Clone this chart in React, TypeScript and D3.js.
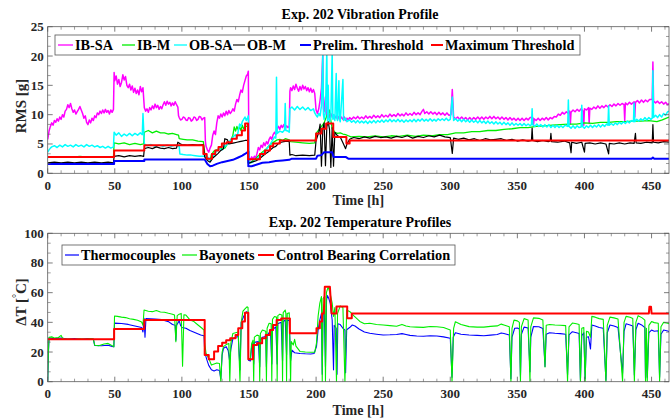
import * as d3 from "d3";

// ---- data (t in h, value) ----
const xTicks = [0, 50, 100, 150, 200, 250, 300, 350, 400, 450];
const rmsTicks = [0, 5, 10, 15, 20, 25];
const tempTicks = [0, 20, 40, 60, 80, 100];

const ibSa: [number, number][] = [
  [0, 5.8], [1, 7.2], [2, 8.0], [3, 8.6], [4, 8.2], [5, 9.0], [6, 8.7], [7, 9.3], [8, 8.9], [9, 9.6], [10, 9.2],
  [11, 10.0], [12, 9.6], [13, 10.6], [14, 10.9], [15, 11.7], [16, 11.2], [17, 11.9], [18, 11.0], [19, 10.4], [20, 10.8],
  [21, 10.1], [22, 10.5], [23, 10.9], [24, 11.4], [25, 10.8], [26, 10.2], [27, 9.4], [28, 9.8], [29, 8.7], [30, 8.3],
  [31, 9.1], [32, 8.6], [33, 9.4], [34, 9.0], [35, 9.8], [36, 9.5], [37, 10.3], [38, 10.0], [39, 10.6], [40, 10.2],
  [41, 10.8], [42, 10.3], [43, 10.9], [44, 10.4], [45, 10.7], [46, 10.1], [47, 10.8], [48, 10.4], [49, 10.9],
  [49.5, 17.2], [50, 15.8], [51, 16.6], [52, 15.2], [53, 16.0], [54, 14.8], [55, 15.5], [56, 16.8], [57, 15.9],
  [58, 16.5], [59, 15.0], [60, 14.6], [61, 15.2], [62, 14.2], [63, 14.9], [64, 13.8], [65, 14.5], [66, 13.6],
  [67, 14.2], [68, 13.4], [69, 14.8], [70, 13.9], [71, 14.6], [72, 11.2], [73, 10.6], [74, 11.0], [75, 10.4],
  [76, 11.2], [77, 10.8], [78, 11.5], [79, 11.0], [80, 11.8], [81, 11.2], [82, 11.6], [83, 10.9], [84, 11.4],
  [85, 11.0], [86, 11.7], [87, 12.2], [88, 11.6], [89, 12.3], [90, 11.8], [91, 12.1], [92, 11.5], [93, 12.0],
  [94, 11.6], [95, 12.2], [96, 11.7], [97, 11.3], [97.5, 9.8], [98, 9.5], [99, 9.1], [100, 9.2], [101, 9.6], [102, 9.5],
  [103, 9.1], [104, 9.0], [105, 9.5], [106, 9.4], [107, 8.9], [108, 9.1], [109, 9.6], [110, 9.5], [111, 9.0],
  [112, 9.2], [113, 9.7], [114, 9.6], [115, 9.1], [116, 9.4], [117, 9.5], [117.5, 5.5], [118, 4.6],
  [119, 4.0], [120, 3.6], [121, 4.3], [122, 4.8], [123, 6.5], [124, 7.2], [125, 6.6], [126, 8.6], [127, 9.8],
  [128, 9.4], [129, 10.1], [130, 9.6], [131, 10.3], [132, 9.8], [133, 10.6], [134, 10.0], [135, 10.7], [136, 10.2],
  [137, 10.5], [138, 11.0], [139, 10.6], [140, 11.8], [141, 12.6], [142, 12.2], [143, 13.3], [144, 14.2], [145, 13.8],
  [146, 15.0], [147, 15.8], [148, 16.6], [149, 16.9], [149.5, 17.4], [150, 2.6], [151, 2.3], [152, 2.8], [153, 2.4],
  [154, 2.9], [155, 2.6], [156, 3.4], [157, 4.4], [158, 4.0], [159, 4.8], [160, 4.4], [161, 5.2], [162, 4.7],
  [163, 5.4], [164, 5.0], [165, 5.8], [166, 6.2], [167, 5.8], [168, 6.6], [169, 7.0], [170, 6.6], [171, 7.6],
  [172, 8.0], [173, 7.5], [174, 8.2], [175, 7.8], [176, 8.3], [177, 7.7], [178, 8.1], [179, 7.8], [180, 8.0],
  [180.5, 14.0], [181, 14.6], [182, 14.1], [183, 14.9], [184, 14.3], [185, 15.2], [186, 14.5], [187, 14.0],
  [188, 14.8], [189, 14.2], [190, 15.0], [191, 14.4], [192, 14.8], [193, 14.1], [194, 14.6], [195, 13.9],
  [196, 14.5], [197, 13.8], [198, 14.3], [199, 13.6], [200, 10.8], [201, 10.2], [202, 11.0], [203, 12.5],
  [204, 14.5], [205, 20.3], [205.5, 11.0], [206, 10.5], [207, 13.0], [208, 9.8], [209, 10.5], [210, 9.5],
  [211, 10.2], [212, 9.6], [213, 10.0], [214, 9.4], [215, 9.8], [216, 9.2], [217, 9.7], [218, 9.3], [219, 9.6],
  [220, 9.2], [221, 9.6], [222, 9.0], [223, 9.4], [224, 9.1], [225, 9.5], [226.5, 9.2], [228, 9.6], [229.5, 9.3],
  [231, 9.7], [232.5, 9.3], [234, 9.6], [235.5, 9.3], [237, 9.8], [238.5, 9.4], [240, 9.7], [241.5, 9.4],
  [243, 9.9], [244.5, 9.5], [246, 9.8], [247.5, 9.5], [249, 10.0], [250.5, 9.6], [252, 9.9], [253.5, 9.6],
  [255, 10.1], [256.5, 9.7], [258, 10.0], [259.5, 9.7], [261, 10.2], [262.5, 9.8], [264, 10.1], [265.5, 9.8],
  [267, 10.3], [268.5, 9.9], [270, 10.2], [271.5, 9.9], [273, 10.4], [274.5, 10.0], [276, 10.3], [277.5, 10.0],
  [279, 10.6], [280, 10.9], [281, 10.2], [282.5, 10.5], [284, 10.1], [285.5, 10.5], [287, 10.1], [288.5, 10.4],
  [290, 10.0], [291.5, 10.4], [293, 10.0], [294.5, 10.3], [296, 9.9], [297.5, 10.3], [299, 9.9], [300.5, 10.0],
  [301.5, 14.3], [302.5, 9.6], [304, 9.3], [305.5, 9.6], [307, 9.2], [308.5, 9.6], [310, 9.2], [311.5, 9.5],
  [313, 9.1], [314.5, 9.5], [316, 9.1], [317.5, 9.5], [319, 9.2], [320.5, 9.6], [322, 9.2], [323.5, 9.6],
  [325, 9.2], [326.5, 9.6], [328, 9.3], [329.5, 9.7], [331, 9.3], [332.5, 9.7], [334, 9.3], [335.5, 9.6],
  [337, 9.2], [338.5, 9.6], [340, 9.2], [341.5, 9.5], [343, 9.1], [344.5, 9.5], [346, 9.1], [347.5, 9.4],
  [349, 9.0], [350.5, 9.4], [352, 9.0], [353.5, 9.4], [355, 9.0], [356.5, 9.4], [358, 9.1], [359.5, 9.5],
  [361.5, 9.5], [362, 8.2], [362.5, 9.3], [364, 9.0], [365.5, 9.4], [367, 9.0], [368.5, 9.4], [370, 9.1],
  [371.5, 9.5], [373, 9.1], [374.5, 9.5], [376, 9.3], [377.5, 9.7], [379, 9.6], [380.5, 10.1], [382, 9.9],
  [383.5, 10.4], [385, 10.1], [386.5, 10.5], [388, 10.2], [389, 10.6], [389.5, 8.4], [390, 10.4], [391.5, 10.8],
  [393, 10.5], [394.5, 10.9], [396, 10.6], [397.5, 11.0], [399, 10.6], [399.5, 8.2], [400, 11.0], [401.5, 10.8],
  [403, 11.2], [403.5, 8.5], [404, 11.1], [405.5, 10.9], [407, 11.3], [408.5, 11.0], [410, 11.5], [411.5, 11.1],
  [413, 11.5], [414.5, 11.2], [416, 11.6], [417.5, 11.3], [419, 11.7], [420.5, 11.4], [422, 11.8], [423.5, 11.5],
  [425, 11.9], [426.5, 11.6], [428, 11.9], [429.5, 11.7], [430, 9.0], [430.5, 12.0], [432, 11.7], [433.5, 12.1],
  [435, 11.8], [437, 12.2], [437.5, 9.6], [438, 12.1], [439.5, 12.4], [441, 12.0], [442.5, 12.5], [444, 12.1],
  [445.5, 12.5], [447, 12.2], [448.5, 12.6], [450.5, 12.6], [451, 19.0], [451.5, 12.3], [453, 12.0], [454.5, 12.3],
  [456, 11.9], [457.5, 12.2], [459, 11.8], [460.5, 12.1], [462, 11.7], [463, 11.9],
];

const ibM: [number, number][] = [
  [0, 2.7], [8, 2.8], [16, 2.7], [24, 2.9], [32, 2.7], [40, 2.8], [49, 2.7], [49.5, 5.2], [53, 5.0], [57, 5.2],
  [61, 4.9], [65, 5.1], [69, 4.9], [71.5, 5.0], [72, 7.0], [75, 7.3], [78, 6.9], [81, 7.2], [84, 6.9], [87, 6.9],
  [90, 6.7], [93, 6.8], [96, 6.6], [97.5, 6.5], [98, 5.9], [101, 5.8], [104, 5.7], [108, 5.7], [112, 5.5],
  [116, 5.4], [117, 3.3], [119, 2.6], [121, 2.3], [122, 3.2], [124, 3.8], [128, 4.2], [132, 4.3], [134, 5.0],
  [136, 5.4], [138, 6.5], [139, 7.9], [140, 7.2], [141, 8.0], [142, 7.4], [143, 7.9], [144, 7.3], [145, 8.2],
  [146, 7.6], [147, 7.9], [148, 8.0], [149, 8.1], [149.5, 1.8], [151, 1.8], [153, 2.2], [155, 2.5], [157, 3.0],
  [159, 3.4], [161, 3.8], [163, 4.2], [165, 4.7], [167, 5.1], [169, 5.4], [171, 5.7], [173, 5.8], [175, 5.6],
  [177, 5.9], [180, 5.7], [181, 5.4], [185, 5.3], [190, 5.2], [195, 5.1], [199, 5.2], [200, 6.8], [202, 7.4],
  [204, 8.0], [206, 8.6], [208, 9.8], [210, 10.8], [211, 9.0], [212, 7.6], [214, 7.0], [216, 6.8], [218, 6.9],
  [220, 6.7], [222, 6.6], [224, 6.4], [226, 6.2], [232, 6.3], [238, 6.2], [244, 6.4], [250, 6.2], [256, 6.4],
  [262, 6.3], [268, 6.5], [274, 6.3], [280, 6.5], [286, 6.4], [292, 6.6], [298, 6.6], [304, 6.9], [310, 6.9],
  [316, 7.1], [322, 7.1], [328, 7.3], [334, 7.3], [340, 7.5], [346, 7.6], [352, 7.8], [358, 7.8], [364, 8.0],
  [370, 8.1], [376, 8.2], [382, 8.3], [388, 8.4], [394, 8.4], [400, 8.6], [406, 8.5], [412, 8.7], [418, 8.7],
  [424, 8.8], [430, 8.8], [436, 8.9], [442, 8.9], [448, 9.0], [454, 8.8], [458, 9.1], [463, 9.6],
];

const obSa: [number, number][] = [
  [0, 3.6], [1, 4.0], [2, 4.3], [3, 4.5], [5, 4.7], [7, 4.4], [9, 4.8], [11, 4.5], [13, 4.9], [15, 4.6], [17, 4.8],
  [19, 4.5], [21, 4.9], [23, 4.6], [25, 4.8], [27, 4.5], [29, 4.9], [31, 4.6], [33, 4.8], [35, 4.5], [37, 4.7],
  [39, 4.4], [41, 4.6], [43, 4.3], [45, 4.6], [47, 4.3], [49, 4.5], [49.5, 7.0], [51, 6.5], [53, 6.9], [55, 6.3],
  [57, 6.7], [59, 6.4], [61, 6.8], [63, 6.4], [65, 6.8], [67, 6.5], [69, 6.9], [70.5, 6.6], [71, 10.2], [72, 5.0],
  [74, 4.7], [77, 4.9], [80, 4.6], [83, 4.8], [86, 4.6], [89, 4.8], [92, 4.6], [95, 4.8], [98, 4.6], [98.5, 3.3],
  [101, 3.2], [104, 3.1], [107, 3.1], [110, 3.0], [113, 2.9], [116, 2.9], [118, 3.0], [120, 2.6], [121, 2.2],
  [122, 2.4], [124, 3.2], [126, 3.8], [128, 4.2], [130, 4.0], [132, 4.6], [134, 5.0], [136, 5.6], [138, 6.2],
  [140, 6.6], [141, 6.0], [142, 7.2], [143, 8.4], [144, 8.0], [145, 8.8], [146, 9.2], [147, 9.6], [148, 9.0],
  [149, 9.5], [149.5, 9.8], [150, 2.0], [152, 1.8], [154, 2.1], [156, 2.4], [158, 2.9], [160, 3.3], [162, 3.8],
  [164, 4.4], [166, 5.0], [168, 5.8], [169, 6.2], [170, 6.0], [170.5, 16.4], [171, 6.8], [173, 7.2], [175, 7.0],
  [176.5, 7.4], [177, 11.9], [177.5, 7.3], [179, 7.2], [180, 7.0], [180.5, 11.0], [182, 11.3], [184, 10.8],
  [186, 11.4], [188, 10.9], [190, 11.3], [192, 10.8], [194, 11.2], [196, 10.7], [198, 11.0], [199, 10.3],
  [200, 9.9], [201, 9.6], [202, 10.2], [203, 9.8], [204, 11.5], [205, 20.5], [205.5, 10.0], [206, 9.2],
  [207, 10.5], [208, 20.8], [208.5, 9.0], [209, 15.0], [209.5, 9.4], [210, 8.8], [211, 9.5], [212, 20.5],
  [212.5, 9.2], [213, 10.0], [214, 9.0], [215, 17.0], [215.5, 9.4], [216, 9.0], [217, 15.8], [217.5, 9.2],
  [218, 8.8], [220, 16.0], [220.5, 9.0], [222, 9.4], [223, 8.8], [225, 9.1], [226.5, 8.7], [228, 9.0], [229.5, 8.6],
  [231, 9.0], [232.5, 8.6], [234, 8.9], [235.5, 8.6], [237, 8.9], [238.5, 8.5], [240, 8.9], [241.5, 8.6],
  [243, 9.0], [244.5, 8.6], [246, 9.0], [247.5, 8.7], [249, 9.1], [250.5, 8.7], [252, 9.1], [253.5, 8.8],
  [255, 9.2], [256.5, 8.8], [258, 9.1], [259.5, 8.8], [261, 9.2], [262.5, 8.8], [264, 9.1], [265.5, 8.7],
  [267, 9.1], [268.5, 8.8], [270, 9.1], [271.5, 8.8], [273, 9.2], [274.5, 8.8], [276, 9.2], [277.5, 8.9],
  [279, 9.3], [280.5, 8.9], [282, 9.2], [283.5, 8.9], [285, 9.3], [286.5, 8.9], [288, 9.2], [289.5, 8.9],
  [291, 9.3], [292.5, 9.0], [294, 9.3], [295.5, 9.0], [297, 9.4], [298.5, 9.0], [300, 9.2], [301.5, 13.0],
  [302.5, 9.0], [304, 9.3], [305.5, 8.9], [307, 9.2], [308.5, 8.8], [310, 9.2], [311.5, 8.8], [313, 9.1],
  [314.5, 8.7], [316, 9.1], [317.5, 8.7], [319, 9.0], [320.5, 8.6], [322, 9.0], [323.5, 8.6], [325, 8.9],
  [326.5, 8.5], [328, 8.9], [329.5, 8.5], [331, 8.8], [332.5, 8.4], [334, 8.8], [335.5, 8.4], [337, 8.7],
  [338.5, 8.3], [340, 8.7], [341.5, 8.3], [343, 8.6], [344.5, 8.2], [346, 8.6], [347.5, 8.2], [349, 8.5],
  [350.5, 8.2], [352, 8.5], [353.5, 8.1], [355, 8.5], [356.5, 8.1], [358, 8.4], [359.5, 8.1], [360.5, 8.3],
  [361, 11.0], [361.5, 8.3], [363, 8.0], [364.5, 8.4], [366, 8.0], [367.5, 8.3], [369, 7.9], [370.5, 8.3],
  [372, 7.9], [373.5, 8.3], [375, 7.8], [376.5, 8.2], [378, 7.8], [379.5, 8.2], [381, 7.8], [382.5, 8.1],
  [384, 7.8], [385.5, 8.2], [387.5, 8.0], [388, 12.5], [388.5, 8.0], [390, 7.7], [391.5, 8.1], [393, 7.7],
  [394.5, 8.1], [396, 7.8], [397.5, 7.9], [398, 11.6], [398.5, 8.0], [400, 7.7], [401.5, 8.1], [403, 7.8],
  [404.5, 8.2], [406, 7.8], [407.5, 8.2], [409, 7.9], [410.5, 8.3], [412, 7.9], [413.5, 8.3], [415, 8.0],
  [416.5, 8.4], [417.5, 8.2], [418, 11.5], [418.5, 8.2], [420, 8.5], [421.5, 8.2], [423, 8.6], [424.5, 8.3],
  [426, 8.7], [427.5, 8.4], [429, 8.8], [430.5, 8.5], [432, 8.9], [433.5, 8.6], [435, 9.0], [436.5, 8.8],
  [437, 12.0], [437.5, 8.8], [439, 9.2], [440.5, 8.9], [442, 9.3], [443.5, 9.0], [445, 9.5], [446.5, 9.1],
  [448, 9.5], [449.5, 9.2], [450.5, 9.4], [451, 17.5], [451.5, 9.5], [453, 9.9], [454.5, 9.5], [456, 10.0],
  [457.5, 9.6], [459, 10.2], [460.5, 9.9], [462, 10.5], [463, 10.6],
];

const obM: [number, number][] = [
  [0, 1.8], [5, 1.9], [10, 1.8], [15, 1.9], [20, 1.8], [25, 1.9], [30, 1.8], [35, 1.9], [40, 1.8], [45, 1.9],
  [49, 1.8], [49.5, 2.9], [53, 3.0], [57, 2.8], [61, 3.0], [65, 2.9], [69, 3.0], [71.5, 2.9], [72, 4.2], [75, 4.4],
  [78, 4.2], [81, 4.5], [84, 4.3], [87, 4.2], [90, 4.4], [93, 4.2], [96, 4.3], [97, 5.3], [99, 5.0], [100, 4.9],
  [104, 4.8], [108, 4.9], [112, 4.8], [116, 4.9], [117, 2.8], [119, 2.2], [121, 1.9], [123, 2.6], [125, 3.0],
  [127, 3.4], [129, 3.9], [131, 4.2], [132, 5.9], [134, 5.7], [135, 5.0], [137, 5.1], [139, 5.2], [141, 5.3],
  [143, 5.4], [145, 5.5], [147, 5.6], [149, 5.6], [149.5, 1.7], [152, 1.9], [155, 2.1], [158, 2.5], [160, 2.9],
  [162, 3.3], [164, 3.6], [166, 4.0], [168, 4.4], [170, 4.6], [172, 5.1], [174, 5.3], [176, 5.4], [178, 5.5],
  [180, 5.4], [180.5, 3.1], [182, 3.2], [185, 3.0], [190, 3.1], [195, 3.0], [199, 3.1], [200, 5.6], [202, 7.0],
  [203, 8.4], [204, 1.2], [205, 7.6], [206, 8.6], [207, 1.3], [208, 7.9], [209, 8.8], [210, 7.5], [211, 1.0],
  [212, 7.8], [213, 1.2], [214, 7.0], [216, 6.4], [218, 6.2], [220, 5.2], [222, 4.2], [223, 5.0], [225, 5.8],
  [228, 6.1], [232, 5.9], [236, 6.2], [240, 6.0], [244, 6.3], [248, 6.1], [252, 6.2], [256, 6.0], [260, 6.3],
  [264, 6.1], [268, 6.4], [272, 6.0], [276, 6.3], [280, 6.1], [284, 6.4], [288, 6.2], [292, 6.5], [296, 6.2],
  [300, 6.1], [301.5, 3.4], [302.5, 6.0], [306, 5.8], [310, 6.0], [314, 5.7], [318, 5.9], [322, 5.6], [326, 5.9],
  [330, 5.7], [334, 5.8], [338, 5.9], [342, 5.6], [346, 5.8], [350, 5.5], [354, 5.7], [358, 5.5], [360.5, 5.6],
  [361, 7.7], [361.5, 5.6], [365, 5.4], [369, 5.6], [373, 5.4], [374.5, 5.5], [375, 6.8], [375.5, 5.4], [380, 5.3],
  [385, 5.5], [389, 5.2], [390, 3.5], [390.5, 5.3], [394, 5.1], [398, 5.3], [400, 3.6], [400.5, 5.1], [404, 5.2],
  [408, 5.0], [412, 5.2], [416, 5.0], [418, 3.3], [418.5, 5.1], [422, 5.0], [426, 5.2], [430, 5.0], [434, 5.2],
  [437, 5.1], [438, 6.8], [438.5, 5.2], [442, 5.1], [446, 5.3], [450.5, 5.2], [451, 8.3], [451.5, 5.3], [455, 5.2],
  [459, 5.4], [463, 5.3],
];

const prelimThr: [number, number][] = [
  [0, 1.6], [49.5, 1.6], [49.5, 2.1], [72, 2.1], [72, 2.35], [117, 2.35], [119, 1.6], [121, 1.2], [123, 1.3],
  [126, 1.6], [130, 1.9], [134, 2.1], [138, 2.3], [142, 2.7], [145, 3.0], [147, 3.3], [149.5, 3.7], [149.5, 1.2],
  [152, 1.2], [156, 1.5], [160, 1.8], [165, 1.9], [170, 2.1], [175, 2.2], [180, 2.3], [182, 2.5], [200, 2.5],
  [201, 3.0], [204, 3.1], [206, 3.6], [212, 3.6], [213, 2.8], [222, 2.8], [224, 2.5], [450, 2.5], [451, 2.7],
  [452, 2.5], [463, 2.5],
];

const maxThr: [number, number][] = [
  [0, 2.8], [49.5, 2.8], [49.5, 3.9], [72, 3.9], [72, 4.8], [116, 4.8], [116, 3.3], [118.5, 3.3], [118.5, 2.5],
  [122.4, 2.5], [122.4, 3.3], [124.8, 3.3], [124.8, 3.9], [127.3, 3.9], [127.3, 4.5], [129.8, 4.5], [129.8, 5.1],
  [133.5, 5.1], [133.5, 5.3], [137.2, 5.3], [137.2, 5.9], [140.9, 5.9], [140.9, 6.5], [144.7, 6.5], [144.7, 7.3],
  [147.1, 7.3], [147.1, 8.5], [149.3, 8.5], [149.3, 2.4], [158.2, 2.4], [158.2, 3.3], [161.9, 3.3], [161.9, 3.9],
  [165.7, 3.9], [165.7, 4.6], [168, 4.6], [168, 5.1], [173, 5.1], [173, 5.6], [200, 5.6], [200, 6.8], [204, 6.8],
  [204, 7.6], [207.5, 7.6], [207.5, 8.5], [212.8, 8.5], [212.8, 6.2], [222.6, 6.2], [222.6, 5.1], [225, 5.1],
  [225, 5.6], [463, 5.6],
];

const thermocouples: [number, number][] = [
  [0, 0], [0.5, 18], [1, 29.5], [5, 29.0], [10, 29.5], [15, 28.8], [20, 29.0], [25, 28.6], [30, 29.0], [34, 28.8],
  [35, 24.5], [40, 24.2], [45, 24.6], [48, 23.8], [49.3, 23.5], [49.8, 39.5], [55, 39.2], [60, 38.6], [65, 37.5],
  [70, 36.5], [71, 33.5], [71.8, 42.7], [72.5, 30.0], [73.2, 42.5], [80, 42.2], [85, 41.8], [90, 40.5], [93, 38.5],
  [95, 38.0], [95.5, 28.0], [96, 38.0], [98, 41.0], [99, 38.0], [100, 36.5], [103, 36.0], [106, 34.5], [110, 33.0],
  [114, 31.5], [116.5, 31.0], [117, 20.0], [118.5, 15.0], [120, 11.0], [122, 8.0], [124, 7.2], [126, 8.0],
  [128, 7.5], [129, 2.0], [130, 18.0], [131, 22.5], [133, 23.6], [134.5, 21.0], [135.5, 14.5], [136.5, 22.0],
  [138, 29.0], [140, 30.0], [142, 30.5], [143.3, 8.0], [144.2, 40.0], [146, 43.9], [148, 47.2], [149.2, 46.5],
  [149.6, 14.5], [151, 14.0], [152, 24.0], [153, 26.0], [153.5, 12.0], [154, 26.5], [157, 27.0], [158, 10.0],
  [158.5, 28.0], [160, 30.0], [162.5, 30.5], [163, 10.0], [163.5, 31.0], [166, 34.5], [167, 12.0], [167.5, 35.0],
  [170, 37.0], [171, 12.0], [171.5, 39.0], [174, 40.0], [175, 14.0], [175.5, 40.5], [177, 41.6], [178, 18.0],
  [178.5, 41.6], [180, 41.0], [181, 14.0], [182, 21.3], [184, 19.5], [188, 19.0], [192, 18.8], [196, 18.7],
  [198.5, 19.0], [200.3, 23.6], [201.5, 34.8], [202.8, 41.6], [204, 46.0], [204.6, 5.0], [205.2, 47.0],
  [206, 52.0], [207, 10.0], [207.8, 55.0], [208.5, 58.0], [209.5, 56.0], [210.5, 53.0], [212, 41.6], [213, 8.0],
  [213.5, 38.0], [215, 36.0], [215.6, 5.0], [216.2, 39.0], [218, 38.5], [220, 36.0], [221.5, 34.8], [222, 6.0],
  [222.8, 35.0], [225, 36.5], [227, 38.2], [229, 37.5], [232, 35.5], [236, 33.5], [240, 32.6], [245, 32.0],
  [250, 31.5], [255, 31.6], [260, 31.8], [264, 32.4], [267, 31.8], [270, 31.2], [275, 30.8], [280, 30.6],
  [285, 31.0], [290, 30.8], [295, 30.2], [300, 29.3], [301.3, 3.0], [302.2, 30.0], [303.8, 33.0], [308, 32.0],
  [314, 31.5], [320, 31.2], [325, 31.0], [330, 31.4], [335, 31.8], [338, 32.8], [340, 32.5], [344, 31.5],
  [345.2, 2.0], [346, 30.0], [348, 36.0], [350, 36.2], [351.5, 35.5], [352.3, 3.5], [353, 32.0], [355, 36.8],
  [358, 36.2], [359.4, 6.7], [360, 30.0], [362, 37.2], [366, 37.0], [369, 35.8], [370.6, 10.2], [371.5, 32.0],
  [374, 33.0], [378, 32.6], [382, 32.4], [386, 32.0], [387.4, 4.6], [388.5, 31.5], [391, 33.7], [394, 33.0],
  [396, 32.5], [397, 1.0], [398, 31.0], [399.5, 33.0], [400.5, 2.0], [401.5, 30.0], [403, 30.3], [404.5, 22.0],
  [405.5, 38.2], [408, 37.5], [411, 36.5], [414, 36.0], [416, 1.0], [417, 33.0], [419, 38.2], [422, 37.5],
  [425, 36.5], [428.4, 5.6], [429.5, 34.0], [431, 39.0], [434, 38.2], [436, 37.5], [437.2, 4.6], [438.3, 35.0],
  [440, 39.4], [443, 38.0], [445, 36.5], [445.5, 2.0], [446.2, 30.0], [446.8, 3.0], [448, 33.0], [450, 34.8],
  [452, 34.0], [455, 34.3], [456, 3.0], [457, 32.0], [459, 34.8], [462, 34.2], [463, 33.8],
];

const bayonets: [number, number][] = [
  [0, 0], [0.5, 20], [1, 30.0], [3, 30.2], [5, 29.5], [8, 29.8], [10, 31.2], [11, 29.5], [13, 28.5], [16, 28.8],
  [20, 28.4], [24, 28.9], [28, 28.6], [32, 29.0], [34, 28.8], [35, 24.6], [38, 24.2], [42, 25.4], [45, 25.8],
  [47, 24.8], [49.3, 23.5], [49.8, 44.3], [52, 44.0], [55, 43.5], [58, 43.2], [61, 42.4], [64, 42.0], [67, 41.4],
  [70, 40.2], [71, 38.0], [71.8, 48.3], [75, 47.5], [78, 47.2], [81, 48.0], [84, 47.0], [87, 46.8], [90, 46.1],
  [93, 45.5], [94.5, 44.9], [95.5, 27.0], [96.5, 44.5], [98, 45.5], [99.5, 46.0], [100.5, 10.5], [101.5, 45.0],
  [103, 44.9], [106, 41.6], [109, 40.5], [112, 38.2], [115, 36.0], [116.5, 34.8], [117, 25.8], [118, 19.1],
  [120, 15.7], [122, 11.2], [124, 11.9], [126, 12.6], [128, 12.3], [129, 0], [130, 20.0], [131, 23.6], [133, 25.0],
  [135, 25.8], [135.7, 0], [136.5, 26.0], [138, 32.5], [140, 33.0], [142, 33.5], [143.3, 0], [144.2, 40.0],
  [145.5, 47.5], [147, 49.0], [148.5, 50.5], [149.3, 50.0], [149.7, 15.7], [151, 15.5], [152, 25.8], [153, 28.0],
  [153.5, 0], [154, 30.0], [156, 31.4], [157.5, 31.0], [158, 0], [158.5, 32.5], [160, 34.8], [162.5, 34.0],
  [163, 0], [163.5, 36.0], [165, 39.4], [166.5, 39.0], [167, 0], [167.5, 42.0], [169, 43.9], [170.5, 43.5],
  [171, 0], [171.5, 44.5], [173, 45.5], [174.5, 45.0], [175, 0], [175.5, 46.5], [177, 48.3], [177.5, 46.0],
  [178, 0], [178.5, 46.0], [180, 46.5], [181, 0], [181.5, 27.0], [183, 24.7], [184, 28.5], [185, 24.0],
  [188, 20.4], [192, 20.0], [196, 19.8], [199, 19.8], [200.3, 26.0], [201.5, 44.0], [202.8, 53.0], [204, 57.4],
  [204.6, 0], [205.2, 56.0], [206.5, 57.5], [207, 0], [207.7, 60.0], [209, 64.0], [210.3, 60.0], [212, 53.0],
  [213, 44.0], [214, 50.0], [215.2, 0], [216, 46.0], [218, 51.0], [220, 50.0], [221.5, 0], [222.8, 48.3],
  [225.2, 47.2], [228, 44.5], [232.6, 40.6], [236, 39.0], [240, 39.4], [245, 38.5], [250, 38.2], [255, 37.8],
  [260, 37.4], [264, 38.6], [267, 37.5], [270, 37.0], [275, 36.8], [280, 36.6], [285, 37.2], [290, 37.0],
  [295, 36.5], [300, 34.9], [301.3, 0], [302.5, 36.0], [303.8, 40.4], [308, 38.5], [314, 37.1], [320, 36.8],
  [325, 36.8], [330, 37.3], [335, 37.6], [338, 38.8], [340, 38.2], [344, 37.0], [345.2, 0], [346, 36.0],
  [347.5, 41.5], [350, 41.0], [351.5, 40.0], [352.3, 0], [353, 37.0], [355, 42.5], [358, 41.6], [359.4, 0],
  [360, 37.0], [362, 43.0], [366, 42.7], [369, 41.5], [370.6, 10.0], [371.5, 38.0], [374, 38.5], [378, 38.2],
  [382, 38.0], [386, 37.8], [387.4, 0], [388.5, 37.0], [391, 39.5], [394, 39.0], [396, 38.5], [397, 0], [398, 36.0],
  [399.5, 36.5], [400.5, 0], [401.5, 34.0], [403, 33.5], [404.5, 30.0], [405.5, 44.0], [408, 43.5], [411, 42.5],
  [414, 42.0], [416, 0], [417, 38.0], [419, 43.5], [422, 43.0], [425, 42.3], [428.4, 0], [429.5, 40.0], [431, 44.0],
  [434, 43.4], [436, 42.6], [437.2, 0], [438.3, 40.0], [440, 44.5], [443, 43.0], [445, 41.5], [445.5, 0],
  [446.2, 36.0], [446.8, 0], [448, 38.0], [450, 40.5], [452, 39.8], [455, 39.4], [456, 0], [457, 37.0],
  [459, 40.0], [462, 39.4], [463, 39.0],
];

const controlBearing: [number, number][] = [
  [0, 28.6], [49.5, 28.6], [49.5, 35.5], [72, 35.5], [72, 41.5], [117, 41.5], [117, 18.0], [120, 18.0],
  [120, 15.1], [124, 15.1], [124, 20.4], [127, 20.4], [127, 24.1], [130, 24.1], [130, 26.3], [133, 26.3],
  [133, 28.0], [136, 28.0], [136, 29.2], [140, 29.2], [140, 31.5], [142, 31.5], [142, 36.0], [145, 36.0],
  [145, 40.5], [147, 40.5], [147, 46.5], [149.5, 46.5], [149.5, 15.1], [153, 15.1], [153, 24.7], [156, 24.7],
  [156, 25.9], [159.8, 25.9], [159.8, 29.2], [162.5, 29.2], [162.5, 31.5], [165.6, 31.5], [165.6, 34.8],
  [168, 34.8], [168, 38.2], [170.6, 38.2], [170.6, 41.6], [174, 41.6], [174, 42.6], [180.5, 42.6], [180.5, 32.6],
  [200.3, 32.6], [200.3, 36.0], [202.8, 36.0], [202.8, 40.5], [204.5, 40.5], [204.5, 46.0], [205.8, 46.0],
  [206.5, 64.0], [210.3, 64.0], [211.5, 46.0], [215.2, 46.0], [215.2, 50.6], [223.2, 50.6], [223.2, 42.7],
  [226.6, 42.7], [226.6, 46.0], [448, 46.0], [448.4, 50.5], [449.6, 50.5], [450, 46.0], [463, 46.0],
];

type Series = { name: string; data: [number, number][]; color: string; width: number; legendWidth: number };

const topSeries: Series[] = [
  { name: "IB-SA", data: ibSa, color: "#ff00ff", width: 1.5, legendWidth: 1.3 },
  { name: "IB-M", data: ibM, color: "#00ee00", width: 1.3, legendWidth: 1.3 },
  { name: "OB-SA", data: obSa, color: "#00ffff", width: 1.5, legendWidth: 1.3 },
  { name: "OB-M", data: obM, color: "#000000", width: 1.2, legendWidth: 1.1 },
  { name: "Prelim. Threshold", data: prelimThr, color: "#0000ff", width: 2, legendWidth: 2 },
  { name: "Maximum Threshold", data: maxThr, color: "#ff0000", width: 2, legendWidth: 2 },
];

const bottomSeries: Series[] = [
  { name: "Thermocouples", data: thermocouples, color: "#0000ff", width: 1.1, legendWidth: 1.2 },
  { name: "Bayonets", data: bayonets, color: "#00ee00", width: 1.1, legendWidth: 1.2 },
  { name: "Control Bearing Correlation", data: controlBearing, color: "#ff0000", width: 2, legendWidth: 2 },
];

const FONT = "'Liberation Serif', 'Times New Roman', serif";
const LEFT = 47.7;
const RIGHT = 669;

type PanelProps = {
  id: string;
  top: number;
  bottom: number;
  yMax: number;
  yTicks: number[];
  yMinorStep: number;
  series: Series[];
  title: string;
  titleY: number;
  xLabelY: number;
  tickLabelY: number;
  yLabel: React.ReactNode;
  yLabelY: number;
  legend: { x: number; y: number; w: number; lineX: number[]; textX: number[] };
};

function Panel(p: PanelProps) {
  const x = d3.scaleLinear().domain([0, 463]).range([LEFT, RIGHT]);
  const y = d3.scaleLinear().domain([0, p.yMax]).range([p.bottom, p.top]);
  const line = d3
    .line<[number, number]>()
    .x((d) => x(d[0]))
    .y((d) => y(d[1]));
  const xMinor = d3.range(0, 463, 10).filter((t) => t % 50 !== 0);
  const yMinor = d3.range(0, p.yMax, p.yMinorStep).filter((v) => !p.yTicks.some((t) => Math.abs(t - v) < 1e-6));
  const axisColor = "#5a5a5a";
  return (
    <g>
      <defs>
        <clipPath id={p.id}>
          <rect x={LEFT} y={p.top} width={RIGHT - LEFT} height={p.bottom - p.top} />
        </clipPath>
      </defs>
      <rect x={LEFT} y={p.top} width={RIGHT - LEFT} height={p.bottom - p.top} fill="#fff" />
      <g clipPath={`url(#${p.id})`}>
        {p.series.map((s) => (
          <path key={s.name} d={line(s.data) ?? ""} fill="none" stroke={s.color} strokeWidth={s.width} strokeLinejoin="round" />
        ))}
      </g>
      {/* box and ticks */}
      <rect x={LEFT} y={p.top} width={RIGHT - LEFT} height={p.bottom - p.top} fill="none" stroke={axisColor} strokeWidth={0.8} />
      {xTicks.map((t) => (
        <g key={"xt" + t}>
          <line x1={x(t)} x2={x(t)} y1={p.bottom} y2={p.bottom - 5} stroke={axisColor} strokeWidth={0.8} />
          <line x1={x(t)} x2={x(t)} y1={p.top} y2={p.top + 5} stroke={axisColor} strokeWidth={0.8} />
          <text x={x(t)} y={p.tickLabelY} textAnchor="middle" fontSize={13} fontWeight="bold" fill="#262626">{t}</text>
        </g>
      ))}
      {xMinor.map((t) => (
        <g key={"xm" + t}>
          <line x1={x(t)} x2={x(t)} y1={p.bottom} y2={p.bottom - 3} stroke={axisColor} strokeWidth={0.6} />
          <line x1={x(t)} x2={x(t)} y1={p.top} y2={p.top + 3} stroke={axisColor} strokeWidth={0.6} />
        </g>
      ))}
      {p.yTicks.map((v) => (
        <g key={"yt" + v}>
          <line x1={LEFT} x2={LEFT + 5} y1={y(v)} y2={y(v)} stroke={axisColor} strokeWidth={0.8} />
          <line x1={RIGHT} x2={RIGHT - 5} y1={y(v)} y2={y(v)} stroke={axisColor} strokeWidth={0.8} />
          <text x={LEFT - 4} y={y(v) + 4.5} textAnchor="end" fontSize={13} fontWeight="bold" fill="#262626">{v}</text>
        </g>
      ))}
      {yMinor.map((v) => (
        <g key={"ym" + v}>
          <line x1={LEFT} x2={LEFT + 3} y1={y(v)} y2={y(v)} stroke={axisColor} strokeWidth={0.6} />
          <line x1={RIGHT} x2={RIGHT - 3} y1={y(v)} y2={y(v)} stroke={axisColor} strokeWidth={0.6} />
        </g>
      ))}
      <text x={360} y={p.titleY} textAnchor="middle" fontSize={14} fontWeight="bold" fill="#000">{p.title}</text>
      <text x={(LEFT + RIGHT) / 2} y={p.xLabelY} textAnchor="middle" fontSize={14} fontWeight="bold" fill="#262626">Time [h]</text>
      <text transform={`translate(26,${p.yLabelY}) rotate(-90)`} textAnchor="middle" fontSize={15} fontWeight="bold" fill="#262626">
        {p.yLabel}
      </text>
      {/* legend */}
      <rect x={p.legend.x} y={p.legend.y} width={p.legend.w} height={20} fill="#fff" stroke="#555" strokeWidth={0.8} />
      {p.series.map((s, i) => (
        <g key={"lg" + s.name}>
          <line x1={p.legend.lineX[i]} x2={p.legend.textX[i] - 2} y1={p.legend.y + 10} y2={p.legend.y + 10} stroke={s.color} strokeWidth={s.legendWidth} />
          <text x={p.legend.textX[i]} y={p.legend.y + 15} fontSize={14.3} fontWeight="bold" fill="#000">{s.name}</text>
        </g>
      ))}
    </g>
  );
}

export default function App() {
  return (
    <svg width={672} height={420} style={{ position: "absolute", left: 0, top: 0, fontFamily: FONT, background: "#fff" }}>
      <rect width={672} height={420} fill="#fff" />
      <Panel
        id="clipTop"
        top={26.7}
        bottom={173.3}
        yMax={25}
        yTicks={rmsTicks}
        yMinorStep={5 / 3}
        series={topSeries}
        title="Exp. 202 Vibration Profile"
        titleY={19}
        xLabelY={205}
        tickLabelY={190}
        yLabel="RMS [g]"
        yLabelY={106}
        legend={{ x: 55, y: 35, w: 525, lineX: [58, 122, 174, 233, 300, 431], textX: [75, 137, 189, 247, 313, 445] }}
      />
      <Panel
        id="clipBottom"
        top={233.3}
        bottom={381.7}
        yMax={100}
        yTicks={tempTicks}
        yMinorStep={20 / 3}
        series={bottomSeries}
        title="Exp. 202 Temperature Profiles"
        titleY={227}
        xLabelY={415}
        tickLabelY={398}
        yLabel={
          <>
            ΔT [
            <tspan dy={-6} fontSize={10}>°</tspan>
            <tspan dy={6}>C]</tspan>
          </>
        }
        yLabelY={302}
        legend={{ x: 62, y: 245, w: 393, lineX: [65, 182, 258], textX: [81, 199, 276] }}
      />
    </svg>
  );
}
